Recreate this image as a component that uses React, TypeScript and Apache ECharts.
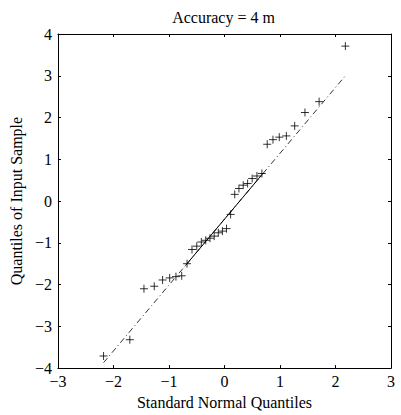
import React, { useEffect, useRef } from "react";
import * as echarts from "echarts";

const normalQuantiles = [
  -2.178, -1.705, -1.45, -1.265, -1.115, -0.987, -0.874, -0.77, -0.674, -0.585,
  -0.499, -0.417, -0.338, -0.261, -0.185, -0.111, -0.037, 0.037, 0.111, 0.185,
  0.261, 0.338, 0.417, 0.499, 0.585, 0.674, 0.77, 0.874, 0.987, 1.115,
  1.265, 1.45, 1.705, 2.178,
];
const sampleQuantiles = [
  -3.71, -3.32, -2.1, -2.04, -1.89, -1.84, -1.81, -1.79, -1.5, -1.16,
  -1.08, -0.98, -0.94, -0.89, -0.84, -0.76, -0.72, -0.66, -0.32, 0.16,
  0.3, 0.38, 0.42, 0.54, 0.6, 0.66, 1.36, 1.47, 1.53, 1.56,
  1.8, 2.12, 2.38, 3.71,
];
// Reference line: dash-dot over the full range, solid between the quartiles
const extendedLineX = [-2.178, 2.178];
const extendedLineY = [-3.87, 3.0];
const quartileLineX = [-0.7, 0.7];
const quartileLineY = [-1.54, 0.67];

const xTicks = { min: -3, max: 3, interval: 1 };
const yTicks = { min: -4, max: 4, interval: 1 };

const titleText = "Accuracy = 4 m";
const xName = "Standard Normal Quantiles";
const yName = "Quantiles of Input Sample";

const FONT = "'Liberation Serif', 'Times New Roman', serif";
const FS = 16;

const minusFmt = (v: number) => String(v).replace("-", "\u2212");

export default function App() {
  const ref = useRef<HTMLDivElement>(null);
  useEffect(() => {
    if (!ref.current) return;
    const chart = echarts.init(ref.current, undefined, { renderer: "svg" });
    const axisLine = { show: true, onZero: false, lineStyle: { color: "#000", width: 1 } };
    const axisTick = { show: true, inside: true, length: 3, lineStyle: { color: "#000", width: 1 } };
    const labelStyle = { fontFamily: FONT, fontSize: FS, color: "#000" };
    const zip = (a: number[], b: number[]) => a.map((x, i) => [x, b[i]]);
    chart.setOption({
      animation: false,
      backgroundColor: "#fff",
      textStyle: { fontFamily: FONT },
      grid: { left: 56, top: 34, width: 335, height: 335, containLabel: false },
      graphic: [
        {
          type: "text",
          x: 223.5,
          y: 17,
          style: {
            text: titleText,
            fontFamily: FONT,
            fontSize: FS,
            fill: "#000",
            align: "center",
            verticalAlign: "middle",
          },
        },
      ],
      xAxis: [
        {
          type: "value",
          ...xTicks,
          position: "bottom",
          axisLine,
          axisTick,
          splitLine: { show: false },
          axisLabel: { ...labelStyle, margin: 5, formatter: minusFmt },
          name: xName,
          nameLocation: "middle",
          nameGap: 21,
          nameTextStyle: labelStyle,
        },
        {
          type: "value",
          ...xTicks,
          position: "top",
          axisLine,
          axisTick,
          splitLine: { show: false },
          axisLabel: { show: false },
        },
      ],
      yAxis: [
        {
          type: "value",
          ...yTicks,
          position: "left",
          axisLine,
          axisTick,
          splitLine: { show: false },
          axisLabel: { ...labelStyle, margin: 6, formatter: minusFmt },
          name: yName,
          nameLocation: "middle",
          nameGap: 28,
          nameTextStyle: labelStyle,
        },
        {
          type: "value",
          ...yTicks,
          position: "right",
          axisLine,
          axisTick,
          splitLine: { show: false },
          axisLabel: { show: false },
        },
      ],
      series: [
        {
          type: "line",
          data: zip(extendedLineX, extendedLineY),
          symbol: "none",
          lineStyle: { color: "#000", width: 0.8, type: [6, 3, 1, 3] },
          silent: true,
          z: 1,
        },
        {
          type: "line",
          data: zip(quartileLineX, quartileLineY),
          symbol: "none",
          lineStyle: { color: "#000", width: 1, type: "solid" },
          silent: true,
          z: 2,
        },
        {
          type: "scatter",
          data: zip(normalQuantiles, sampleQuantiles),
          symbol: "path://M0,5L10,5M5,0L5,10",
          symbolSize: 8,
          itemStyle: { color: "rgba(0,0,0,0)", borderColor: "#000", borderWidth: 1 },
          emphasis: { disabled: true },
          silent: true,
          z: 3,
        },
      ],
    });
    return () => chart.dispose();
  }, []);
  return (
    <div
      ref={ref}
      style={{ position: "fixed", left: 0, top: 0, width: 401, height: 415, background: "#fff" }}
    />
  );
}
